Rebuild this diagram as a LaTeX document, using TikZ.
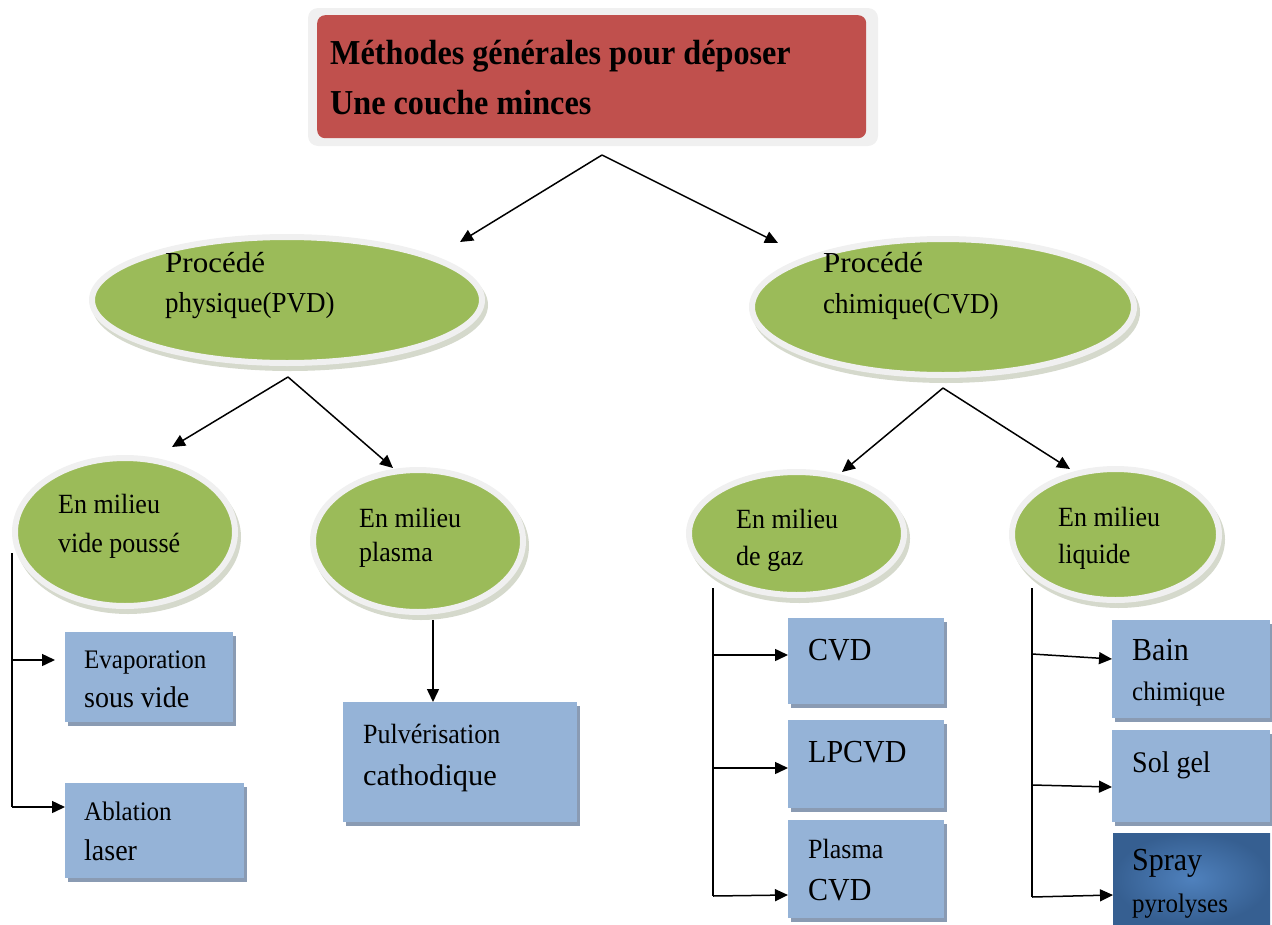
\documentclass[tikz,border=0pt]{standalone}
\usepackage{fontspec}
\usepackage{graphicx}
\setmainfont{Liberation Serif}
\usetikzlibrary{shapes.geometric,arrows.meta}
\definecolor{tred}{HTML}{C0504D}
\definecolor{tgreen}{HTML}{9BBB59}
\definecolor{tblue}{HTML}{95B3D7}
\definecolor{ring}{HTML}{F0F0F0}
\definecolor{eshad}{HTML}{D5D9CC}
\definecolor{bshad}{HTML}{8A9BB3}
\definecolor{sprayin}{HTML}{4F81BD}
\definecolor{sprayout}{HTML}{365F91}
\newcommand\fsz[1]{\fontsize{#1}{#1}\selectfont}
\newcommand\vst[1]{\scalebox{1}[1.07]{#1}}
\tikzset{
  ell/.style={ellipse, fill=tgreen, draw=ring, line width=6pt, inner sep=0pt},
  ellsh/.style={ellipse, fill=eshad, draw=eshad, line width=6pt, inner sep=0pt},
  bx/.style={rectangle, fill=tblue, draw=none, inner sep=0pt, anchor=north west},
  bxsh/.style={rectangle, fill=bshad, draw=none, inner sep=0pt, anchor=north west},
  txt/.style={anchor=base west, inner sep=0pt, text=black},
  ln/.style={line width=1.5pt, black},
  arr/.style={line width=1.5pt, black, -{Triangle[length=13pt,width=12pt]}}
}
\begin{document}
\begin{tikzpicture}[x=1pt,y=-1pt]
\useasboundingbox (0,0) rectangle (1272,924);
% ---------- title ----------
\fill[ring, rounded corners=10pt] (308,8) rectangle (878,146);
\node[rectangle, fill=tred, rounded corners=8pt, minimum width=549pt, minimum height=123pt, inner sep=0pt, anchor=north west] (title) at (317,15) {};
\node[txt, font=\fsz{35}\bfseries] (tt1) at (330,64) {\scalebox{0.92}[1]{Méthodes générales pour déposer}};
\node[txt, font=\fsz{35}\bfseries] (tt2) at (330,114) {\scalebox{0.92}[1]{Une couche minces}};
% ---------- ellipses ----------
\node[ellsh, minimum width=390pt, minimum height=126pt] at (290,305) {};
\node[ell, minimum width=390pt, minimum height=126pt] (pvd) at (287,300) {};
\node[ellsh, minimum width=382pt, minimum height=136pt] at (946,312) {};
\node[ell, minimum width=382pt, minimum height=136pt] (cvd) at (943,307) {};
\node[ellsh, minimum width=220pt, minimum height=148pt] at (128,537) {};
\node[ell, minimum width=220pt, minimum height=148pt] (vp) at (125,532) {};
\node[ellsh, minimum width=210pt, minimum height=142pt] at (421,546) {};
\node[ell, minimum width=210pt, minimum height=142pt] (pl) at (418,541) {};
\node[ellsh, minimum width=215pt, minimum height=123pt] at (799.5,538.5) {};
\node[ell, minimum width=215pt, minimum height=123pt] (gz) at (796.5,533.5) {};
\node[ellsh, minimum width=207pt, minimum height=131pt] at (1118.5,539.5) {};
\node[ell, minimum width=207pt, minimum height=131pt] (lq) at (1115.5,534.5) {};
% ellipse texts
\node[txt, font=\fsz{29}] (p1) at (165,272) {\scalebox{1.07}[1]{Procédé}};
\node[txt, font=\fsz{27}] (p2) at (165,312) {\vst{physique(PVD)}};
\node[txt, font=\fsz{29}] (c1) at (823,272) {\scalebox{1.07}[1]{Procédé}};
\node[txt, font=\fsz{27}] (c2) at (823,313) {\vst{chimique(CVD)}};
\node[txt, font=\fsz{26}] (v1) at (58,513) {\vst{En milieu}};
\node[txt, font=\fsz{26}] (v2) at (58,552) {\vst{vide poussé}};
\node[txt, font=\fsz{26}] (l1) at (359,527) {\vst{En milieu}};
\node[txt, font=\fsz{26}] (l2) at (359,561) {\vst{plasma}};
\node[txt, font=\fsz{26}] (g1) at (736,528) {\vst{En milieu}};
\node[txt, font=\fsz{26}] (g2) at (736,565) {\vst{de gaz}};
\node[txt, font=\fsz{26}] (q1) at (1058,526) {\vst{En milieu}};
\node[txt, font=\fsz{26}] (q2) at (1058,563) {\vst{liquide}};
% ---------- boxes ----------
\node[bxsh, minimum width=168pt, minimum height=90pt] at (68,636) {};
\node[bx, minimum width=168pt, minimum height=90pt] (evap) at (65,632) {};
\node[bxsh, minimum width=179pt, minimum height=95pt] at (68,787) {};
\node[bx, minimum width=179pt, minimum height=95pt] (abl) at (65,783) {};
\node[bxsh, minimum width=234pt, minimum height=120pt] at (346,706) {};
\node[bx, minimum width=234pt, minimum height=120pt] (pulv) at (343,702) {};
\node[bxsh, minimum width=156pt, minimum height=86pt] at (791,622) {};
\node[bx, minimum width=156pt, minimum height=86pt] (bcvd) at (788,618) {};
\node[bxsh, minimum width=156pt, minimum height=88pt] at (791,724) {};
\node[bx, minimum width=156pt, minimum height=88pt] (blp) at (788,720) {};
\node[bxsh, minimum width=156pt, minimum height=98pt] at (791,824) {};
\node[bx, minimum width=156pt, minimum height=98pt] (bpl) at (788,820) {};
\node[bxsh, minimum width=158pt, minimum height=98pt] at (1115,624) {};
\node[bx, minimum width=158pt, minimum height=98pt] (bain) at (1112,620) {};
\node[bxsh, minimum width=158pt, minimum height=92pt] at (1115,734) {};
\node[bx, minimum width=158pt, minimum height=92pt] (sol) at (1112,730) {};
\node[rectangle, inner sep=0pt, anchor=north west, inner color=sprayin, outer color=sprayout, minimum width=157pt, minimum height=91pt] (spray) at (1113,833) {};
% box texts
\node[txt, font=\fsz{25}] (e1) at (84,668) {\vst{Evaporation}};
\node[txt, font=\fsz{28}] (e2) at (84,707) {\vst{sous vide}};
\node[txt, font=\fsz{25}] (a1) at (84,820) {\vst{Ablation}};
\node[txt, font=\fsz{28}] (a2) at (84,860) {\vst{laser}};
\node[txt, font=\fsz{26}] (u1) at (363,743) {\vst{Pulvérisation}};
\node[txt, font=\fsz{29}] (u2) at (363,785) {\scalebox{1.05}[1.03]{cathodique}};
\node[txt, font=\fsz{30}] (d1) at (808,660) {\vst{CVD}};
\node[txt, font=\fsz{30}] (d2) at (808,762) {\vst{LPCVD}};
\node[txt, font=\fsz{26}] (d3) at (808,858) {\vst{Plasma}};
\node[txt, font=\fsz{30}] (d4) at (808,900) {\vst{CVD}};
\node[txt, font=\fsz{30}] (b1) at (1132,660) {\vst{Bain}};
\node[txt, font=\fsz{25}] (b2) at (1132,700) {\vst{chimique}};
\node[txt, font=\fsz{28}] (s1) at (1132,772) {\vst{Sol gel}};
\node[txt, font=\fsz{30}] (s2) at (1132,870) {\vst{Spray}};
\node[txt, font=\fsz{25}] (s3) at (1132,912) {\vst{pyrolyses}};
% ---------- connectors ----------
\coordinate (t0) at (602,155);
\coordinate (tL) at (460,242);
\coordinate (tR) at (778,243);
\draw[arr] (t0) -- (tL);
\draw[arr] (t0) -- (tR);
\coordinate (p0) at (288,377);
\coordinate (pL) at (172,447);
\coordinate (pR) at (393,468);
\draw[arr] (p0) -- (pL);
\draw[arr] (p0) -- (pR);
\coordinate (c0) at (943,388);
\coordinate (cL) at (842,472);
\coordinate (cR) at (1070,469);
\draw[arr] (c0) -- (cL);
\draw[arr] (c0) -- (cR);
% plasma -> pulverisation
\coordinate (pl0) at (433,620);
\draw[arr] (pl0) -- (pulv.north -| pl0);
% vide pousse tree
\coordinate (v0) at (12,553);
\coordinate (vb1) at (12,660);
\coordinate (vb2) at (12,807);
\draw[ln] (v0) -- (vb2);
\draw[arr] (vb1) -- ([xshift=-10pt]evap.west |- vb1);
\draw[arr] (vb2) -- (abl.west |- vb2);
% gaz tree
\coordinate (g0) at (713,588);
\coordinate (gb1) at (713,655);
\coordinate (gb2) at (713,768);
\coordinate (gb3) at (713,896);
\draw[ln] (g0) -- (gb3);
\draw[arr] (gb1) -- (bcvd.west |- gb1);
\draw[arr] (gb2) -- (blp.west |- gb2);
\draw[arr] (gb3) -- ([yshift=1pt]bpl.west |- gb3);
% liquide tree
\coordinate (q0) at (1032,588);
\coordinate (qb1) at (1032,654);
\coordinate (qb2) at (1032,785);
\coordinate (qb3) at (1032,897);
\draw[ln] (q0) -- (qb3);
\draw[arr] (qb1) -- ([yshift=-5pt]bain.west |- qb1);
\draw[arr] (qb2) -- ([yshift=-2pt]sol.west |- qb2);
\draw[arr] (qb3) -- ([yshift=2pt]spray.west |- qb3);
\end{tikzpicture}
\end{document}
